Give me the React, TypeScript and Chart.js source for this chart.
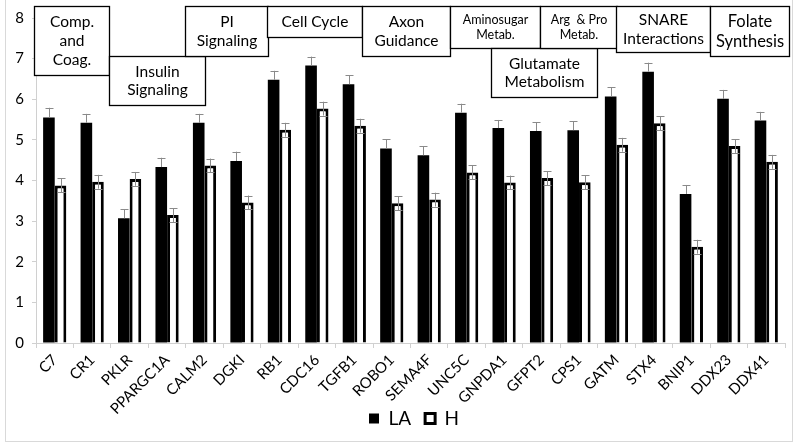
import React, { useEffect, useRef } from "react";
import { Chart, registerables } from "chart.js";

Chart.register(...registerables);

const genes = ["C7", "CR1", "PKLR", "PPARGC1A", "CALM2", "DGKI", "RB1", "CDC16", "TGFB1", "ROBO1", "SEMA4F", "UNC5C", "GNPDA1", "GFPT2", "CPS1", "GATM", "STX4", "BNIP1", "DDX23", "DDX41"];
const laValues = [5.55, 5.42, 3.07, 4.33, 5.42, 4.48, 6.48, 6.83, 6.37, 4.79, 4.62, 5.67, 5.29, 5.22, 5.24, 6.07, 6.68, 3.67, 6.01, 5.48];
const laErrors = [0.24, 0.22, 0.22, 0.23, 0.22, 0.23, 0.22, 0.22, 0.22, 0.22, 0.22, 0.22, 0.2, 0.22, 0.22, 0.22, 0.22, 0.22, 0.22, 0.21];
const hValues = [3.88, 3.97, 4.04, 3.15, 4.37, 3.46, 5.25, 5.77, 5.35, 3.44, 3.53, 4.2, 3.95, 4.06, 3.96, 4.88, 5.41, 2.37, 4.85, 4.46];
const hErrors = [0.17, 0.17, 0.17, 0.17, 0.17, 0.17, 0.17, 0.17, 0.17, 0.17, 0.17, 0.17, 0.17, 0.17, 0.17, 0.17, 0.17, 0.17, 0.17, 0.17];
const yTicks = [0, 1, 2, 3, 4, 5, 6, 7, 8];

// pathway annotation boxes (category units from left edge, value units)
const boxLabels = [["Comp.", "and", "Coag."], ["Insulin", "Signaling"], ["PI", "Signaling"], ["Cell Cycle"], ["Axon", "Guidance"], ["Aminosugar", "Metab."], ["Glutamate", "Metabolism"], ["Arg  & Pro", "Metab."], ["SNARE", "Interactions"], ["Folate", "Synthesis"]];
const boxStart = [-0.05, 1.95, 3.98, 6.17, 8.7, 11.05, 12.15, 13.46, 15.5, 18.0];
const boxEnd = [1.95, 4.51, 6.2, 8.7, 11.05, 13.46, 14.98, 15.52, 18.0, 20.1];
const boxTop = [8.3, 7.07, 8.3, 8.3, 8.3, 8.3, 7.27, 8.3, 8.3, 8.3];
const boxBottom = [6.6, 5.86, 7.07, 7.54, 7.07, 7.27, 6.06, 7.27, 7.17, 7.07];
const boxFont = [15.5, 15.5, 15.5, 15.5, 15.5, 12.5, 15.5, 12.5, 15.5, 16.5];

const FONT = "Lato, 'Open Sans', sans-serif";

const errorBarPlugin = {
  id: "errorBars",
  afterDatasetsDraw(chart: any) {
    const ctx = chart.ctx;
    const y = chart.scales.y;
    const sets = [
      { vals: laValues, errs: laErrors, both: false },
      { vals: hValues, errs: hErrors, both: true },
    ];
    ctx.save();
    ctx.strokeStyle = "#8a8a8a";
    ctx.lineWidth = 1;
    sets.forEach((s, di) => {
      const meta = chart.getDatasetMeta(di);
      meta.data.forEach((bar: any, i: number) => {
        const x = Math.round(bar.x) + 0.5;
        const yTop = y.getPixelForValue(s.vals[i] + s.errs[i]);
        const yBot = s.both ? y.getPixelForValue(s.vals[i] - s.errs[i]) : y.getPixelForValue(s.vals[i]);
        ctx.beginPath();
        ctx.moveTo(x, yTop);
        ctx.lineTo(x, yBot);
        ctx.moveTo(x - 4, Math.round(yTop) + 0.5);
        ctx.lineTo(x + 4, Math.round(yTop) + 0.5);
        if (s.both) {
          ctx.moveTo(x - 4, Math.round(yBot) + 0.5);
          ctx.lineTo(x + 4, Math.round(yBot) + 0.5);
        }
        ctx.stroke();
      });
    });
    ctx.restore();
  },
};

const boxPlugin = {
  id: "pathwayBoxes",
  afterDraw(chart: any) {
    const ctx = chart.ctx;
    const y = chart.scales.y;
    const area = chart.chartArea;
    const w = (area.right - area.left) / genes.length;
    ctx.save();
    boxLabels.forEach((lines, i) => {
      const x0 = Math.round(area.left + boxStart[i] * w) + 0.5;
      const x1 = Math.round(area.left + boxEnd[i] * w) + 0.5;
      const y0 = Math.round(y.getPixelForValue(boxTop[i])) + 0.5;
      const y1 = Math.round(y.getPixelForValue(boxBottom[i])) + 0.5;
      ctx.fillStyle = "#ffffff";
      ctx.fillRect(x0, y0, x1 - x0, y1 - y0);
      ctx.strokeStyle = "#000000";
      ctx.lineWidth = 1.3;
      ctx.strokeRect(x0, y0, x1 - x0, y1 - y0);
      const fs = boxFont[i];
      const lh = fs * 1.22;
      ctx.fillStyle = "#000000";
      ctx.font = `${fs}px ${FONT}`;
      ctx.textAlign = "center";
      ctx.textBaseline = "middle";
      const cx = (x0 + x1) / 2;
      const cy = (y0 + y1) / 2;
      lines.forEach((t, j) => {
        ctx.fillText(t, cx, cy + (j - (lines.length - 1) / 2) * lh);
      });
    });
    ctx.restore();
  },
};

// legend takes no layout space; it is placed under the rotated tick labels
const legendPlace = {
  id: "legendPlace",
  beforeLayout(chart: any) {
    const lg = chart.legend;
    if (!lg || lg._zeroFit) return;
    const orig = lg.fit.bind(lg);
    lg.fit = function () {
      orig();
      this._realH = this.height;
      this.height = 0;
    };
    lg._zeroFit = true;
  },
  afterLayout(chart: any) {
    const lg = chart.legend;
    if (!lg) return;
    const h = lg._realH || 40;
    lg.left = 355;
    lg.right = 790;
    lg.width = lg.right - lg.left;
    lg.top = 395;
    lg.bottom = lg.top + h;
    lg.height = h;
  },
};

export default function App() {
  const ref = useRef<HTMLCanvasElement | null>(null);
  useEffect(() => {
    if (!ref.current) return;
    const chart = new Chart(ref.current, {
      type: "bar",
      data: {
        labels: genes,
        datasets: [
          {
            label: "LA",
            data: laValues,
            backgroundColor: "#000000",
            borderColor: "#000000",
            borderWidth: 0,
            categoryPercentage: 0.62,
            barPercentage: 1,
          },
          {
            label: "H",
            data: hValues,
            backgroundColor: "#ffffff",
            borderColor: "#000000",
            borderWidth: 3,
            categoryPercentage: 0.62,
            barPercentage: 1,
          },
        ],
      },
      options: {
        responsive: false,
        animation: false,
        layout: { padding: { top: 18, right: 15, left: 0, bottom: 0 } },
        plugins: {
          legend: {
            position: "bottom",
            align: "start",
            labels: {
              font: { family: FONT, size: 19 },
              color: "#000",
              boxWidth: 10,
              boxHeight: 10,
              padding: 14,
            },
          },
          tooltip: { enabled: false },
        },
        scales: {
          x: {
            afterFit(axis: any) {
              axis.height = 105;
            },
            grid: { drawOnChartArea: false, tickLength: 5, color: "#d0d0d0", offset: true },
            border: { color: "#d0d0d0" },
            ticks: {
              font: { family: FONT, size: 15 },
              color: "#000",
              maxRotation: 45,
              minRotation: 45,
              autoSkip: false,
              padding: 3,
            },
          },
          y: {
            min: 0,
            max: 8,
            afterFit(axis: any) {
              axis.width = 36;
            },
            afterBuildTicks(axis: any) {
              axis.ticks = yTicks.map((v) => ({ value: v }));
            },
            grid: { drawOnChartArea: false, tickLength: 4, color: "#d0d0d0" },
            border: { color: "#d0d0d0" },
            ticks: {
              font: { family: FONT, size: 15 },
              color: "#000",
              padding: 8,
            },
          },
        },
      },
      plugins: [errorBarPlugin, boxPlugin, legendPlace],
    });
    return () => chart.destroy();
  }, []);
  return (
    <div style={{ position: "fixed", left: 0, top: 0, width: 800, height: 448, background: "#fff" }}>
      <div
        style={{
          position: "absolute",
          left: 5,
          top: -2,
          width: 788,
          height: 444,
          borderLeft: "1px solid #d9d9d9",
          borderRight: "1px solid #d9d9d9",
          borderBottom: "1px solid #d9d9d9",
          boxSizing: "border-box",
        }}
      />
      <canvas ref={ref} width={800} height={448} style={{ position: "absolute", left: 0, top: 0 }} />
    </div>
  );
}
